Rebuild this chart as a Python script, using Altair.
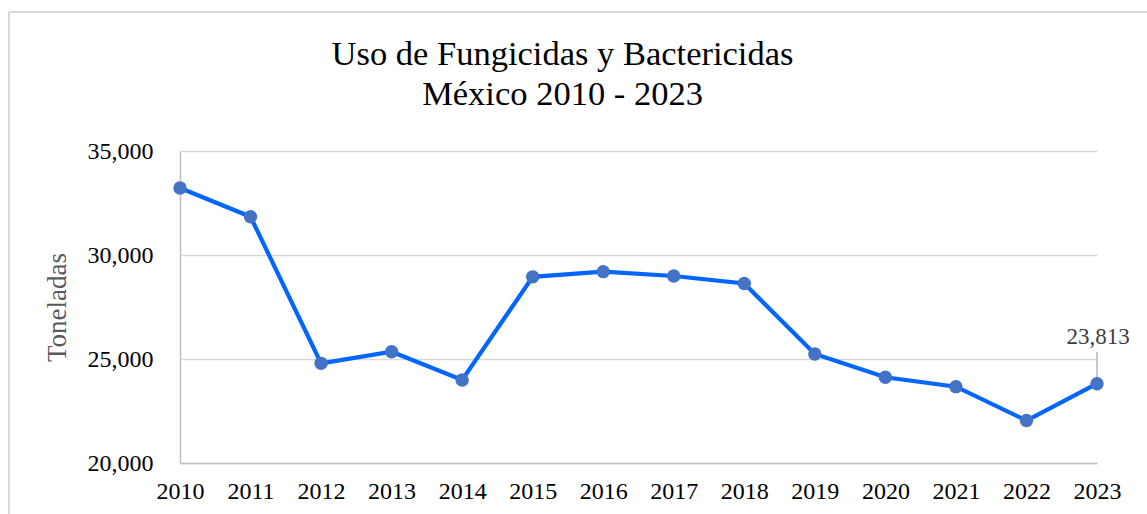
import altair as alt
import pandas as pd

# Annual use of fungicides and bactericides in Mexico (tonnes)
years = [2010, 2011, 2012, 2013, 2014, 2015, 2016, 2017, 2018, 2019, 2020, 2021, 2022, 2023]
tonnes = [33220, 31840, 24790, 25350, 23990, 28950, 29200, 28990, 28630, 25240, 24120, 23670, 22040, 23813]

df = pd.DataFrame({"year": years, "tonnes": tonnes})

SERIF = "Liberation Serif"
LINE_BLUE = "#0066ff"
MARKER_BLUE = "#4472c4"

x_enc = alt.X(
    "year:O",
    scale=alt.Scale(type="point", padding=0),
    axis=alt.Axis(
        title=None,
        labelAngle=0,
        labelFont=SERIF,
        labelFontSize=24,
        labelColor="#000000",
        labelPadding=16,
        ticks=False,
        domainColor="#bfbfbf",
        domainWidth=1.5,
        grid=False,
    ),
)
y_enc = alt.Y(
    "tonnes:Q",
    scale=alt.Scale(domain=[20000, 35000], nice=False, zero=False),
    axis=alt.Axis(
        title="Toneladas",
        values=[20000, 25000, 30000, 35000],
        format=",d",
        labelFont=SERIF,
        labelFontSize=24,
        labelColor="#000000",
        labelPadding=27,
        ticks=False,
        domainColor="#bfbfbf",
        domainWidth=1.5,
        gridColor="#d9d9d9",
        gridWidth=1.5,
        titleFont=SERIF,
        titleFontSize=27,
        titleFontWeight="normal",
        titleColor="#595959",
        titleX=-123,
        titleY=156,
        titleAlign="center",
        titleBaseline="middle",
        titleAngle=270,
    ),
)

base = alt.Chart(df)

line = base.mark_line(color=LINE_BLUE, strokeWidth=4.2).encode(x=x_enc, y=y_enc)
points = base.mark_circle(color=MARKER_BLUE, opacity=1, size=180).encode(x="year:O", y="tonnes:Q")

last = base.transform_filter(alt.datum.year == 2023)
leader = last.mark_rule(color="#a6a6a6", strokeWidth=1.2, y2Offset=-32).encode(
    x="year:O", y="tonnes:Q", y2="tonnes:Q"
)
value_label = last.mark_text(
    font=SERIF, fontSize=23, color="#404040", baseline="alphabetic", dy=-40, dx=1
).encode(x="year:O", y="tonnes:Q", text=alt.Text("tonnes:Q", format=",d"))

# outer frame of the chart area
frame_top = base.mark_rule(color="#d9d9d9", strokeWidth=1.5).encode(
    x=alt.value(-171), x2=alt.value(1000), y=alt.value(-139)
)
frame_left = base.mark_rule(color="#d9d9d9", strokeWidth=1.5).encode(
    x=alt.value(-171), y=alt.value(-139), y2=alt.value(400)
)

chart = (
    alt.layer(frame_top, frame_left, line, leader, points, value_label)
    .properties(
        width=917,
        height=312,
        autosize=alt.AutoSizeParams(type="none"),
        padding={"left": 180, "top": 151, "right": 50, "bottom": 51},
        background="#ffffff",
        title=alt.TitleParams(
            text=["Uso de Fungicidas y Bactericidas", "México 2010 - 2023"],
            font=SERIF,
            fontSize=34.5,
            fontWeight="normal",
            color="#000000",
            lineHeight=40,
            anchor="middle",
            dx=-76,
            dy=131,
            offset=30,
        ),
    )
    .configure_view(stroke=None)
)

chart.save("out.html", embed_options={"renderer": "svg", "actions": False})
